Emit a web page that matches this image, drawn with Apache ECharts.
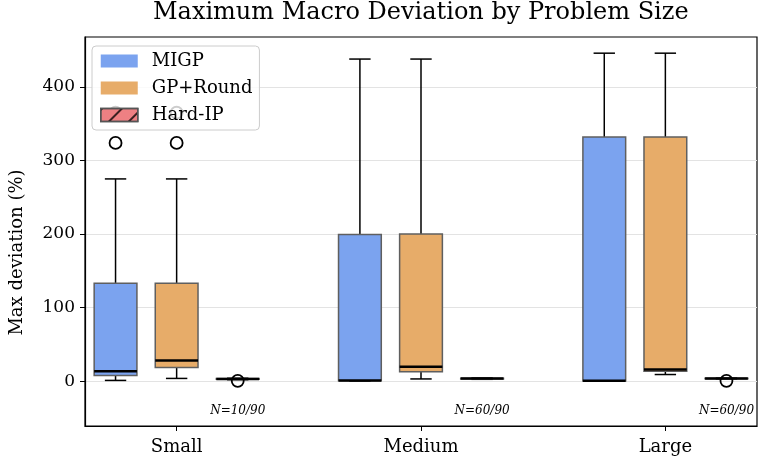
<!DOCTYPE html>
<html>
<head>
<meta charset="utf-8">
<script src="https://cdn.jsdelivr.net/npm/echarts@6/dist/echarts.min.js"></script>
<style>
  html, body { margin: 0; padding: 0; background: #fff; }
  #chart { width: 765px; height: 465px; }
</style>
</head>
<body>
<div id="chart"></div>
<script>
// categories and group layout
const categories = ['Small', 'Medium', 'Large'];
const seriesNames = ['MIGP', 'GP+Round', 'Hard-IP'];
const yTicks = [0, 100, 200, 300, 400];

// box stats per category: [lower whisker, q1, median, q3, upper whisker]
const migpStats = [
  [1, 7.7, 13.6, 133, 275],
  [0, 0.5, 1, 199.5, 438],
  [0, 0.2, 0.5, 332, 446]
];
const gpRoundStats = [
  [3.7, 18.6, 28, 133, 275],
  [3, 12.7, 19.5, 200, 438],
  [9, 13.6, 16, 332, 446]
];
const hardIpStats = [
  [2, 2.5, 3, 3.5, 4],
  [2.5, 3, 3.5, 4, 4.5],
  [3, 3.3, 3.6, 4, 4.3]
];

// outliers: [category index, value]
const migpOutliers = [[0, 324], [0, 365]];
const gpRoundOutliers = [[0, 324], [0, 365]];
const hardIpOutliers = [[0, 0.5], [2, 0.4]];

// feasibility note under each group
const nLabels = ['N=10/90', 'N=60/90', 'N=60/90'];
const nLabelY = -40;

const offsets = [-0.25, 0, 0.25];
const boxW = 0.175;
const fills = ['#7BA3EF', '#E7AC69', '#EE8083'];
const FONT = 'DejaVu Serif';

const chart = echarts.init(document.getElementById('chart'));

function boxRender(fill) {
  return function (params, api) {
    const x = api.value(0);
    const lo = api.coord([x, api.value(1)]);
    const q1 = api.coord([x, api.value(2)]);
    const med = api.coord([x, api.value(3)]);
    const q3 = api.coord([x, api.value(4)]);
    const hi = api.coord([x, api.value(5)]);
    const w = api.size([boxW, 0])[0];
    const cx = lo[0];
    const cap = w / 4;
    const line = { stroke: '#000', lineWidth: 1.5 };
    return {
      type: 'group',
      children: [
        { type: 'line', shape: { x1: cx, y1: q3[1], x2: cx, y2: hi[1] }, style: line },
        { type: 'line', shape: { x1: cx, y1: q1[1], x2: cx, y2: lo[1] }, style: line },
        { type: 'line', shape: { x1: cx - cap, y1: hi[1], x2: cx + cap, y2: hi[1] }, style: line },
        { type: 'line', shape: { x1: cx - cap, y1: lo[1], x2: cx + cap, y2: lo[1] }, style: line },
        {
          type: 'rect',
          shape: { x: cx - w / 2, y: q3[1], width: w, height: q1[1] - q3[1] },
          style: { fill: fill, stroke: '#5f5f5f', lineWidth: 1.5 }
        },
        { type: 'line', shape: { x1: cx - w / 2, y1: med[1], x2: cx + w / 2, y2: med[1] }, style: { stroke: '#000', lineWidth: 2.5 } }
      ]
    };
  };
}

function boxData(stats, k) {
  return stats.map((s, i) => [i + offsets[k]].concat(s));
}
function outlierData(list, k) {
  return list.map(d => [d[0] + offsets[k], d[1]]);
}

const allStats = [migpStats, gpRoundStats, hardIpStats];
const allOutliers = [migpOutliers, gpRoundOutliers, hardIpOutliers];

const series = [];
allStats.forEach((stats, k) => {
  series.push({
    name: seriesNames[k],
    type: 'custom',
    renderItem: boxRender(fills[k]),
    itemStyle: { color: fills[k] },
    encode: { x: 0, y: [1, 2, 3, 4, 5] },
    data: boxData(stats, k),
    z: 2
  });
});
allOutliers.forEach((list, k) => {
  series.push({
    name: seriesNames[k] + ' outliers',
    type: 'scatter',
    symbol: 'circle',
    symbolSize: 12,
    itemStyle: { color: 'rgba(0,0,0,0)', borderColor: '#000', borderWidth: 1.8, opacity: 1 },
    data: outlierData(list, k),
    silent: true,
    z: 3
  });
});
series.push({
  name: 'notes',
  type: 'custom',
  clip: false,
  renderItem: function (params, api) {
    const p = api.coord([api.value(0), api.value(1)]);
    return {
      type: 'text',
      x: p[0], y: p[1],
      style: {
        text: nLabels[params.dataIndex],
        font: 'italic 12px "' + FONT + '"',
        fill: '#000', align: 'center', verticalAlign: 'middle'
      }
    };
  },
  data: nLabels.map((t, i) => [i + offsets[2], nLabelY]),
  z: 4
});

const option = {
  animation: false,
  backgroundColor: '#fff',
  title: {
    text: 'Maximum Macro Deviation by Problem Size',
    left: 153, top: 1,
    padding: 0,
    textStyle: { fontFamily: FONT, fontSize: 24, fontWeight: 'normal', color: '#000' }
  },
  legend: {
    data: [
      { name: 'MIGP', itemStyle: { color: fills[0], borderWidth: 0 } },
      { name: 'GP+Round', itemStyle: { color: fills[1], borderWidth: 0 } },
      {
        name: 'Hard-IP',
        itemStyle: {
          color: fills[2], borderColor: '#555', borderWidth: 1.5,
          decal: {
            symbol: 'rect', symbolSize: 1, color: 'rgba(0,0,0,0.75)',
            dashArrayX: [1, 0], dashArrayY: [2, 12], rotation: -Math.PI / 4
          }
        }
      }
    ],
    orient: 'vertical',
    left: 92, top: 46,
    icon: 'rect',
    itemWidth: 37, itemHeight: 13, itemGap: 9,
    padding: [6, 7, 6, 8],
    backgroundColor: 'rgba(255,255,255,0.8)',
    borderColor: '#ccc', borderWidth: 1, borderRadius: 4,
    textStyle: { fontFamily: FONT, fontSize: 18, lineHeight: 18, color: '#000', padding: [0, 0, 0, 9] },
    z: 10
  },
  grid: {
    left: 84, right: 8, top: 37, bottom: 39,
    show: true, borderColor: '#000', borderWidth: 1.2
  },
  xAxis: {
    type: 'value',
    min: -0.375, max: 2.375,
    axisLine: { show: true, onZero: false, lineStyle: { color: '#000', width: 1.2 } },
    axisTick: { show: true, customValues: [0, 1, 2], length: 5, lineStyle: { color: '#000' } },
    axisLabel: {
      customValues: [0, 1, 2],
      formatter: v => categories[Math.round(v)],
      fontFamily: FONT, fontSize: 18, color: '#000', margin: 12
    },
    splitLine: { show: false }
  },
  yAxis: {
    type: 'value',
    min: -61, max: 468,
    name: 'Max deviation (%)',
    nameLocation: 'middle', nameGap: 59,
    nameTextStyle: { fontFamily: FONT, fontSize: 18, color: '#000', padding: [0, 42, 0, 0] },
    axisLine: { show: true, onZero: false, lineStyle: { color: '#000', width: 1.2 } },
    axisTick: { show: true, customValues: yTicks, length: 5, lineStyle: { color: '#000' } },
    axisLabel: { customValues: yTicks, fontFamily: FONT, fontSize: 17, color: '#000', margin: 10 },
    splitLine: { show: true, lineStyle: { color: '#e3e3e3', width: 1 } }
  },
  series: series
};

chart.setOption(option);
</script>
</body>
</html>
